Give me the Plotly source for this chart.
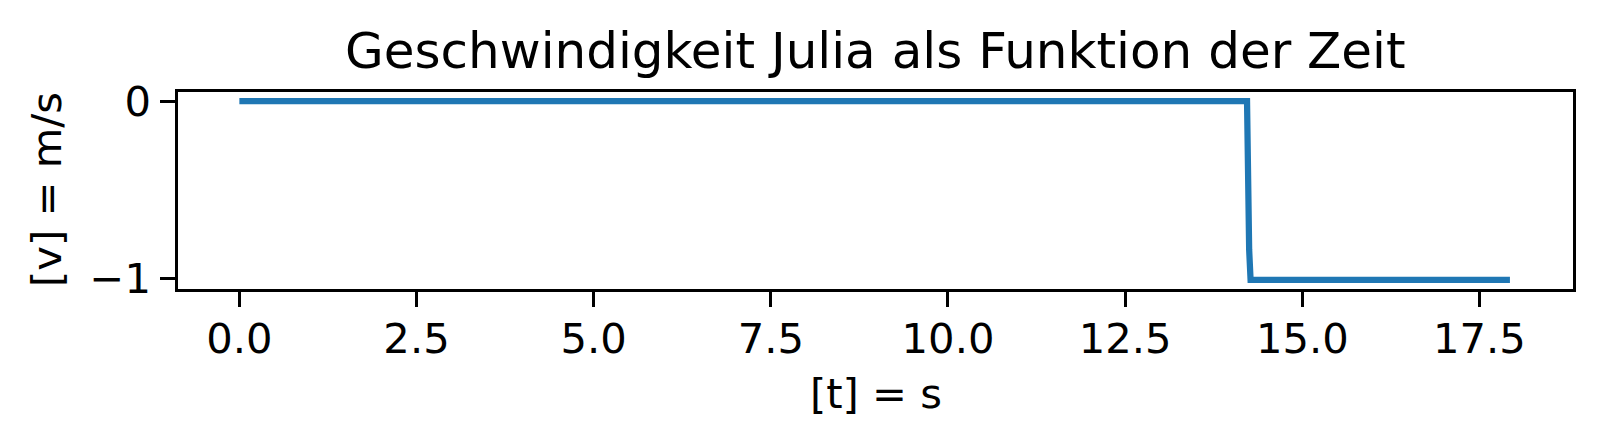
import plotly.graph_objects as go

# Data
t_values = [0.0, 14.22, 14.25, 14.27, 17.93]
v_values = [0.0, 0.0, -0.84, -1.01, -1.01]

x_tick_vals = [0.0, 2.5, 5.0, 7.5, 10.0, 12.5, 15.0, 17.5]
x_tick_text = ["0.0", "2.5", "5.0", "7.5", "10.0", "12.5", "15.0", "17.5"]
y_tick_vals = [-1, 0]
y_tick_text = ["\u22121", "0"]

title_text = "Geschwindigkeit Julia als Funktion der Zeit"
x_label = "[t] = s"
y_label = "[v] = m/s"

W, H = 1602, 445
L, R, T, B = 178, 1573, 92, 289
FONT = "DejaVu Sans"
tick_px = 41.7
title_px = 50

fig = go.Figure()
fig.add_trace(go.Scatter(
    x=t_values, y=v_values, mode="lines",
    line=dict(color="#1f77b4", width=6.25),
    showlegend=False, hoverinfo="skip",
))

axis_common = dict(
    showgrid=False, zeroline=False,
    showline=True, linecolor="black", linewidth=3.3, mirror=True,
    ticks="outside", ticklen=14.6, tickwidth=3.3, tickcolor="black",
    tickfont=dict(family=FONT, size=tick_px, color="black"),
)

fig.update_layout(
    width=W, height=H,
    margin=dict(l=L, r=W - R, t=T, b=H - B, pad=0),
    paper_bgcolor="white", plot_bgcolor="white",
    font=dict(family=FONT, color="black"),
    xaxis=dict(range=[-0.866, 18.82], tickvals=x_tick_vals, ticktext=x_tick_text,
               ticklabelstandoff=-4, **axis_common),
    yaxis=dict(range=[-1.062, 0.051], tickvals=y_tick_vals, ticktext=y_tick_text,
               ticklabelstandoff=1, **axis_common),
    annotations=[
        dict(text=title_text, xref="paper", yref="paper", x=0.5,
             y=1 + (T - 51) / (B - T), xanchor="center", yanchor="middle",
             showarrow=False, font=dict(family=FONT, size=title_px, color="black")),
        dict(text=x_label, xref="paper", yref="paper", x=0.5,
             y=-(393 - B) / (B - T), xanchor="center", yanchor="middle",
             showarrow=False, font=dict(family=FONT, size=tick_px, color="black")),
        dict(text=y_label, xref="paper", yref="paper", x=-(L - 46) / (R - L),
             y=1 - (190 - T) / (B - T), xanchor="center", yanchor="middle",
             textangle=-90, showarrow=False,
             font=dict(family=FONT, size=tick_px, color="black")),
    ],
)

fig.write_html("out.html", config={"displayModeBar": False},
               post_script="document.body.style.margin='0';")
